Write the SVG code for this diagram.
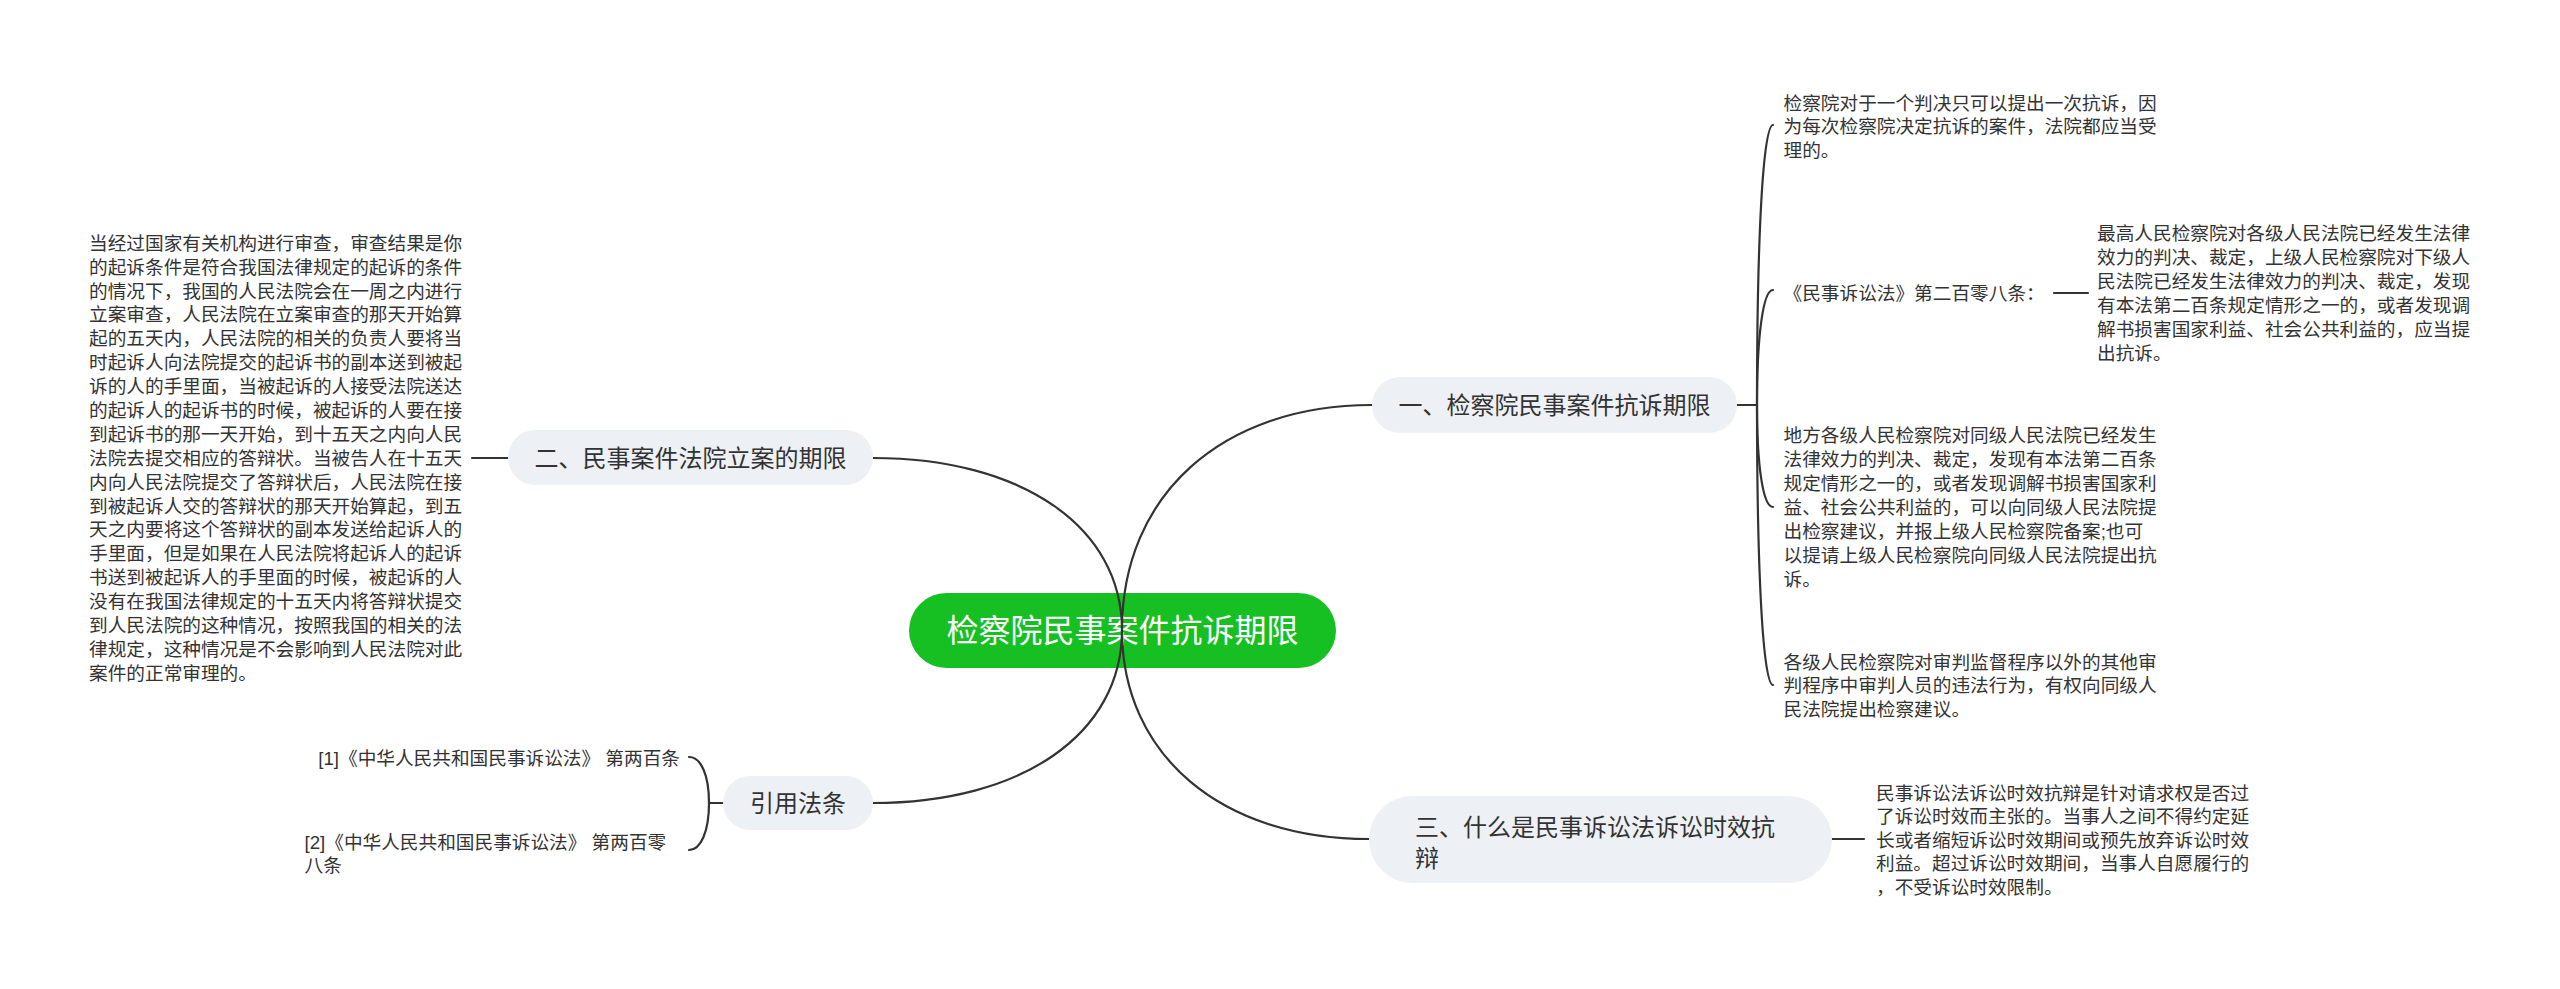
<svg xmlns="http://www.w3.org/2000/svg" width="2560" height="989" viewBox="0 0 2560 989">
<style>
.bg{fill:#ffffff}
.root rect{fill:#16bf22}
.root text{fill:#ffffff;font-size:32px}
.node rect{fill:#edf0f4}
.node text{fill:#333333;font-size:24px}
.leaf text{fill:#333333;font-size:18.67px}
text{font-family:"Liberation Sans","Noto Sans CJK SC",sans-serif}
.conn path,.conn line{fill:none;stroke:#333333;stroke-width:2.2;stroke-linecap:round}
</style>
<rect class="bg" x="0" y="0" width="2560" height="989"/>

<g id="root" class="root">
  <rect x="909" y="593" width="427" height="75" rx="37.5"/>
  <text x="1122.5" y="641.5" text-anchor="middle">检察院民事案件抗诉期限</text>
</g>

<g id="connectors" class="conn">
  <path d="M1122,630 C1122,495 1222,405 1372,405"/>
  <path d="M1122,630 C1122,527 1022,458 873,458"/>
  <path d="M1122,630 C1122,734 1022,803 873,803"/>
  <path d="M1122,630 C1122,755 1221,839 1369,839"/>
  <line x1="1737" y1="405" x2="1757" y2="405"/>
  <path d="M1757,405 C1757,237 1763,125 1773,125"/>
  <path d="M1757,405 C1757,336 1763,290 1773,290"/>
  <path d="M1757,405 C1757,466 1763,507 1773,507"/>
  <path d="M1757,405 C1757,573 1763,685 1773,685"/>
  <line x1="2054" y1="293" x2="2088" y2="293"/>
  <line x1="472" y1="458" x2="508" y2="458"/>
  <line x1="1832" y1="839" x2="1864" y2="839"/>
  <line x1="709" y1="803" x2="723" y2="803"/>
  <path d="M709,803 C709,775 701,757 689,757"/>
  <path d="M709,803 C709,831 701,850 689,850"/>
</g>

<g id="node1" class="node">
  <rect x="1372" y="377" width="365" height="56" rx="28"/>
  <text x="1554.5" y="413.6" text-anchor="middle">一、检察院民事案件抗诉期限</text>
</g>

<g id="node2" class="node">
  <rect x="508" y="430" width="365" height="55" rx="27.5"/>
  <text x="690.5" y="466.6" text-anchor="middle">二、民事案件法院立案的期限</text>
</g>

<g id="node3" class="node">
  <rect x="1369" y="796" width="463" height="87" rx="43.5"/>
  <text x="1415" y="835.6">三、什么是民事诉讼法诉讼时效抗</text>
  <text x="1415" y="866.6">辩</text>
</g>

<g id="node4" class="node">
  <rect x="723" y="776" width="150" height="54" rx="27"/>
  <text x="798" y="811.6" text-anchor="middle">引用法条</text>
</g>

<g id="leaf1a" class="leaf">
  <text x="1783.5" y="109.7">
    <tspan x="1783.5" dy="0">检察院对于一个判决只可以提出一次抗诉，因</tspan>
    <tspan x="1783.5" dy="23.6">为每次检察院决定抗诉的案件，法院都应当受</tspan>
    <tspan x="1783.5" dy="23.6">理的。</tspan>
  </text>
</g>

<g id="leaf1b" class="leaf">
  <text x="1783.5" y="299.7">《民事诉讼法》第二百零八条：</text>
</g>

<g id="leaf1b1" class="leaf">
  <text x="2097" y="239.7">
    <tspan x="2097" dy="0">最高人民检察院对各级人民法院已经发生法律</tspan>
    <tspan x="2097" dy="24">效力的判决、裁定，上级人民检察院对下级人</tspan>
    <tspan x="2097" dy="24">民法院已经发生法律效力的判决、裁定，发现</tspan>
    <tspan x="2097" dy="24">有本法第二百条规定情形之一的，或者发现调</tspan>
    <tspan x="2097" dy="24">解书损害国家利益、社会公共利益的，应当提</tspan>
    <tspan x="2097" dy="24">出抗诉。</tspan>
  </text>
</g>

<g id="leaf1c" class="leaf">
  <text x="1783.5" y="441.7">
    <tspan x="1783.5" dy="0">地方各级人民检察院对同级人民法院已经发生</tspan>
    <tspan x="1783.5" dy="24">法律效力的判决、裁定，发现有本法第二百条</tspan>
    <tspan x="1783.5" dy="24">规定情形之一的，或者发现调解书损害国家利</tspan>
    <tspan x="1783.5" dy="24">益、社会公共利益的，可以向同级人民法院提</tspan>
    <tspan x="1783.5" dy="24">出检察建议，并报上级人民检察院备案;也可</tspan>
    <tspan x="1783.5" dy="24">以提请上级人民检察院向同级人民法院提出抗</tspan>
    <tspan x="1783.5" dy="24">诉。</tspan>
  </text>
</g>

<g id="leaf1d" class="leaf">
  <text x="1783.5" y="668.7">
    <tspan x="1783.5" dy="0">各级人民检察院对审判监督程序以外的其他审</tspan>
    <tspan x="1783.5" dy="23.5">判程序中审判人员的违法行为，有权向同级人</tspan>
    <tspan x="1783.5" dy="23.5">民法院提出检察建议。</tspan>
  </text>
</g>

<g id="leaf2" class="leaf">
  <text x="89" y="249.7">
    <tspan x="89" dy="0">当经过国家有关机构进行审查，审查结果是你</tspan>
    <tspan x="89" dy="23.9">的起诉条件是符合我国法律规定的起诉的条件</tspan>
    <tspan x="89" dy="23.9">的情况下，我国的人民法院会在一周之内进行</tspan>
    <tspan x="89" dy="23.9">立案审查，人民法院在立案审查的那天开始算</tspan>
    <tspan x="89" dy="23.9">起的五天内，人民法院的相关的负责人要将当</tspan>
    <tspan x="89" dy="23.9">时起诉人向法院提交的起诉书的副本送到被起</tspan>
    <tspan x="89" dy="23.9">诉的人的手里面，当被起诉的人接受法院送达</tspan>
    <tspan x="89" dy="23.9">的起诉人的起诉书的时候，被起诉的人要在接</tspan>
    <tspan x="89" dy="23.9">到起诉书的那一天开始，到十五天之内向人民</tspan>
    <tspan x="89" dy="23.9">法院去提交相应的答辩状。当被告人在十五天</tspan>
    <tspan x="89" dy="23.9">内向人民法院提交了答辩状后，人民法院在接</tspan>
    <tspan x="89" dy="23.9">到被起诉人交的答辩状的那天开始算起，到五</tspan>
    <tspan x="89" dy="23.9">天之内要将这个答辩状的副本发送给起诉人的</tspan>
    <tspan x="89" dy="23.9">手里面，但是如果在人民法院将起诉人的起诉</tspan>
    <tspan x="89" dy="23.9">书送到被起诉人的手里面的时候，被起诉的人</tspan>
    <tspan x="89" dy="23.9">没有在我国法律规定的十五天内将答辩状提交</tspan>
    <tspan x="89" dy="23.9">到人民法院的这种情况，按照我国的相关的法</tspan>
    <tspan x="89" dy="23.9">律规定，这种情况是不会影响到人民法院对此</tspan>
    <tspan x="89" dy="23.9">案件的正常审理的。</tspan>
  </text>
</g>

<g id="leaf3" class="leaf">
  <text x="1876" y="799.7">
    <tspan x="1876" dy="0">民事诉讼法诉讼时效抗辩是针对请求权是否过</tspan>
    <tspan x="1876" dy="23.5">了诉讼时效而主张的。当事人之间不得约定延</tspan>
    <tspan x="1876" dy="23.5">长或者缩短诉讼时效期间或预先放弃诉讼时效</tspan>
    <tspan x="1876" dy="23.5">利益。超过诉讼时效期间，当事人自愿履行的</tspan>
    <tspan x="1876" dy="23.5">，不受诉讼时效限制。</tspan>
  </text>
</g>

<g id="leaf4a" class="leaf">
  <text x="680" y="764.7" text-anchor="end">[1]《中华人民共和国民事诉讼法》 第两百条</text>
</g>

<g id="leaf4b" class="leaf">
  <text x="304.5" y="848.7">
    <tspan x="304.5" dy="0">[2]《中华人民共和国民事诉讼法》 第两百零</tspan>
    <tspan x="304.5" dy="23">八条</tspan>
  </text>
</g>
</svg>
